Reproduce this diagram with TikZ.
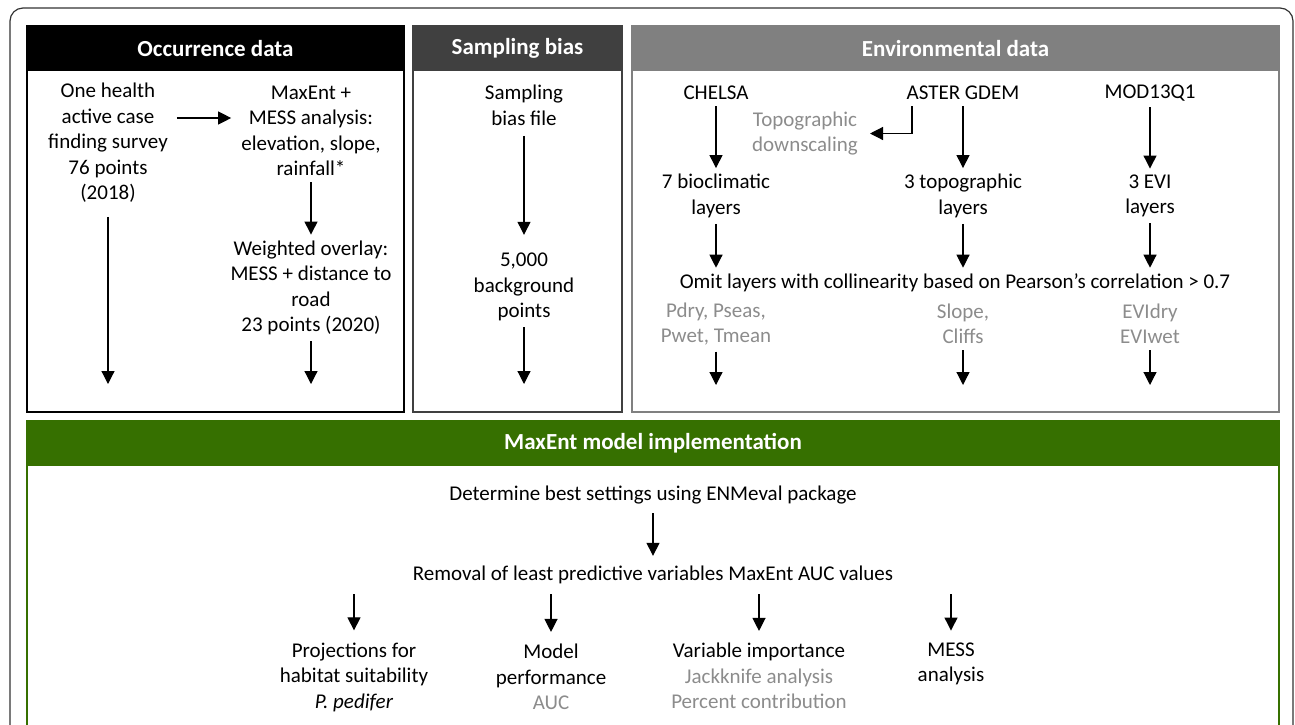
\documentclass[tikz,border=0pt]{standalone}
\usepackage{fontspec}
\setmainfont{Carlito}
\usetikzlibrary{arrows.meta,calc}

\definecolor{hdgreen}{HTML}{367000}
\definecolor{hddark}{HTML}{404040}
\definecolor{hdgray}{HTML}{808080}
\definecolor{txgray}{HTML}{8C8C8C}

\tikzset{
  txt/.style={align=center, font=\fontsize{21}{25.5}\selectfont, inner sep=6pt},
  sub/.style={txt, text=txgray},
  hdr/.style={font=\fontsize{23}{27}\selectfont\bfseries, text=white, anchor=north,
    inner sep=0pt, outer sep=0pt, minimum height=45pt},
  panel/.style={draw, line width=2pt, inner sep=0pt, outer sep=0pt},
  arr/.style={-{Triangle[length=13pt,width=13pt]}, line width=1.2pt}
}

\begin{document}
\begin{tikzpicture}[x=1pt,y=-1pt]
\useasboundingbox (0,0) rectangle (1295,724);
\clip (0,0) rectangle (1295,724);

% outer frame
\draw[rounded corners=13pt, black!80, line width=1.2pt] (10,760) -- (10,8) -- (1293,8) -- (1293,760);

% panels and headers
\node[panel, draw=black, minimum width=377pt, minimum height=386pt] (occ) at (215.5,219) {};
\node[hdr, fill=black, minimum width=377pt] (occhd) at (occ.north) {Occurrence data};
\node[panel, draw=hddark, minimum width=209pt, minimum height=386pt] (samp) at (517.5,219) {};
\node[hdr, fill=hddark, minimum width=209pt] (samphd) at (samp.north) {Sampling bias};
\node[panel, draw=hdgray, minimum width=647pt, minimum height=386pt] (env) at (955.5,219) {};
\node[hdr, fill=hdgray, minimum width=647pt] (envhd) at (env.north) {Environmental data};
\node[panel, draw=hdgreen, minimum width=1252pt, minimum height=340pt] (mod) at (653,591) {};
\node[hdr, fill=hdgreen, minimum width=1252pt] (modhd) at (mod.north) {MaxEnt model implementation};

% occurrence data
\node[txt] (health) at (108,143) {One health\\active case\\finding survey\\76 points\\(2018)};
\node[txt] (messin) at (311,131) {MaxEnt +\\MESS analysis:\\elevation, slope,\\rainfall*};
\node[txt] (overlay) at (311,288) {Weighted overlay:\\MESS + distance to\\road\\23 points (2020)};
\coordinate (healthend) at (108,384);
\coordinate (overlayend) at (311,384);
\draw[arr, shorten <=3pt, shorten >=4pt] ([yshift=25pt]health.east) -- ([yshift=13pt]messin.west);
\draw[arr] (messin) -- (overlay);
\draw[arr, shorten <=8pt] (health) -- (healthend);
\draw[arr] (overlay) -- (overlayend);

% sampling bias
\node[txt] (biasfile) at (524,105.5) {Sampling\\bias file};
\node[txt] (bgpoints) at (524,287) {5,000\\background\\points};
\coordinate (bgend) at (524,384);
\draw[arr, shorten <=4pt, shorten >=12pt] (biasfile) -- (bgpoints);
\draw[arr] (bgpoints) -- (bgend);

% environmental data
\node[txt] (chelsa) at (716,93) {CHELSA};
\node[txt] (aster) at (963,93) {ASTER GDEM};
\node[txt] (modis) at (1150,93) {MOD13Q1};
\node[sub] (downscale) at (805,133.5) {Topographic\\downscaling};
\node[txt] (bioclim) at (716,196) {7 bioclimatic\\layers};
\node[txt] (topolay) at (963,196) {3 topographic\\layers};
\node[txt] (evilay) at (1150,196) {3 EVI\\layers};
\node[txt] (omit) at (955,283) {Omit layers with collinearity based on Pearson’s correlation > 0.7};
\node[sub] (bioleft) at (716,324) {Pdry, Pseas,\\Pwet, Tmean};
\node[sub] (topoleft) at (963,324) {Slope,\\Cliffs};
\node[sub] (evileft) at (1150,324) {EVIdry\\EVIwet};
\draw[arr] (chelsa) -- (bioclim);
\draw[arr] (aster) -- (topolay);
\draw[arr] (modis) -- (evilay);
\draw[arr, shorten >=6pt] ([xshift=-51pt]aster.south) |- (downscale);
\foreach \n in {bioclim,topolay,evilay}
  \draw[arr] (\n) -- (\n |- omit.north);
\foreach \n in {bioleft,topoleft,evileft}{
  \coordinate (\n end) at (\n |- 0,385);
  \draw[arr] (\n) -- (\n end);
}

% maxent model
\node[txt] (enmeval) at (653,495) {Determine best settings using ENMeval package};
\node[txt] (removal) at (653,575) {Removal of least predictive variables MaxEnt AUC values};
\node[txt] (proj) at (354,677) {Projections for\\habitat suitability\\\textit{P. pedifer}};
\node[txt] (perf) at (551,677) {Model\\performance\\\textcolor{txgray}{AUC}};
\node[txt] (varimp) at (759,676) {Variable importance\\\textcolor{txgray}{Jackknife analysis}\\\textcolor{txgray}{Percent contribution}};
\node[txt] (messout) at (951,664) {MESS\\analysis};
\draw[arr, shorten <=3pt, shorten >=4pt] (enmeval) -- (removal);
\foreach \n in {proj,perf,varimp,messout}
  \draw[arr, shorten <=4pt, shorten >=6pt] (\n.north |- removal.south) -- (\n.north);

\end{tikzpicture}
\end{document}
